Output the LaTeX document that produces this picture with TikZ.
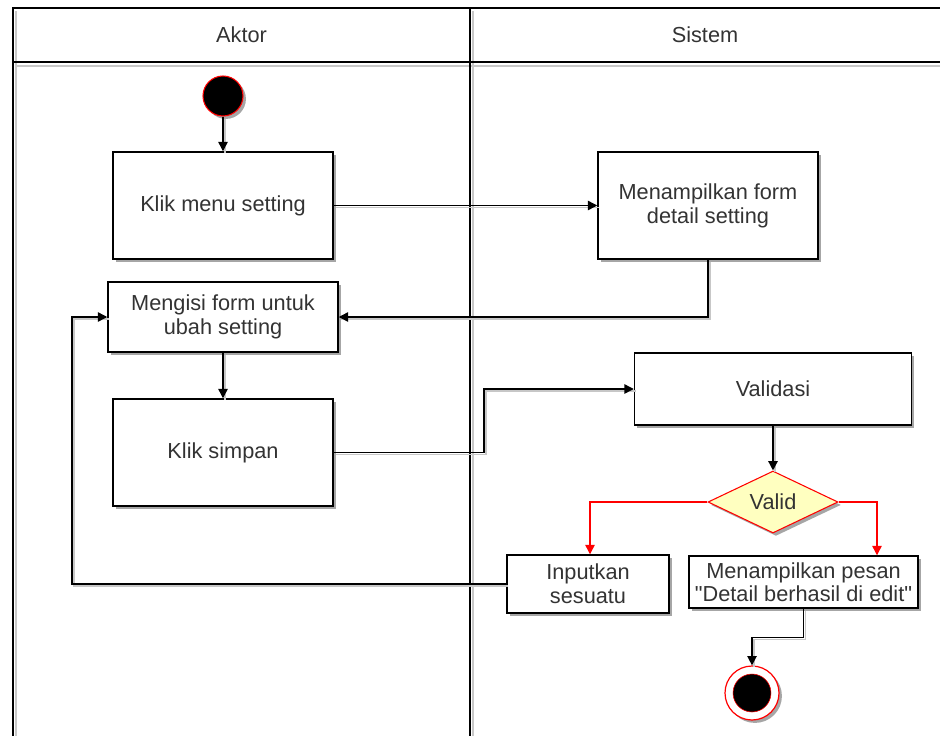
\documentclass[tikz,border=0pt]{standalone}
\usepackage{fontspec}
\setmainfont{Liberation Sans}[Ligatures=TeXOff]
\usetikzlibrary{arrows.meta,shapes.geometric,shadows,calc}
\definecolor{lanegray}{RGB}{200,200,200}
\definecolor{decisionfill}{RGB}{255,255,192}
\begin{document}
\begin{tikzpicture}[x=0.75pt,y=-0.75pt,
  every node/.style={font=\fontsize{16.3}{18}\selectfont, text=black!80},
  shade/.style={drop shadow={shadow xshift=2.2pt, shadow yshift=-2.2pt, fill=black!35, opacity=1}},
  actbox/.style={draw=black, line width=1.1pt, fill=white, rectangle, inner sep=2pt, align=center, shade},
  lane/.style={draw=black, line width=1.1pt},
  flow/.style={draw=black, line width=1pt, -{Triangle[length=7pt,width=7pt]},
    preaction={draw=black!22, -, line width=1pt, transform canvas={shift={(1.5pt,-1.5pt)}}}},
  redflow/.style={draw=red, line width=1pt, -{Triangle[length=7pt,width=7pt]}},
]
\useasboundingbox (0,0) rectangle (940,736);

% swimlane frame
\draw[lanegray, line width=1.1pt] (16,66) -- (940,66);
\draw[lanegray, line width=1pt] (473,11) -- (473,736);
\draw[lanegray, line width=1pt] (16,11) -- (16,736);
\draw[lane] (13,736) -- (13,8) -- (940,8);
\draw[lane] (13,62) -- (940,62);
\draw[lane] (470,8) -- (470,736);
\node (hdrA) at (241.5,35) {Aktor};
\node (hdrS) at (705,35) {Sistem};

% activities
\node[circle, draw=red, line width=0.8pt, fill=black, minimum size=30pt, inner sep=0pt, shade] (start) at (223,96) {};
\node[actbox, minimum width=165pt, minimum height=80.25pt] (klik) at (223,205.5) {Klik menu setting};
\node[actbox, minimum width=165pt, minimum height=80.25pt] (form) at (708,205.5) {Menampilkan form\\detail setting};
\node[actbox, minimum width=172.5pt, minimum height=52.5pt] (isi) at (223,317) {Mengisi form untuk\\ubah setting};
\node[actbox, minimum width=165pt, minimum height=80.25pt] (simpan) at (223,452.5) {Klik simpan};
\node[actbox, minimum width=207.75pt, minimum height=54pt] (valid) at (773,389) {Validasi};
\node[diamond, draw=red, line width=0.8pt, fill=decisionfill, minimum width=97.5pt, minimum height=46.5pt, aspect=2.1, inner sep=0pt, shade] (cek) at (773,502) {Valid};
\node[actbox, minimum width=121.5pt, minimum height=43.5pt] (input) at (588,584) {Inputkan\\sesuatu};
\node[actbox, minimum width=171.75pt, minimum height=39pt, inner sep=0pt, font=\fontsize{16.3}{17}\selectfont] (pesan) at (803.5,582) {Menampilkan pesan\\"Detail berhasil di edit"};
\node[circle, draw=red, line width=0.9pt, fill=white, minimum size=40.5pt, inner sep=0pt, shade] (stop) at (752,693) {};
\node[circle, draw=red, line width=0.4pt, fill=black, minimum size=28.5pt, inner sep=0pt] (stopdot) at (stop) {};

% bend points
\coordinate (jog) at (484,452.5);
\coordinate (back) at (72,317);

% control flow
\draw[flow] (start) -- (klik);
\draw[flow] (klik) -- (form);
\draw[flow] (form.south) |- (isi.east);
\draw[flow] (isi) -- (simpan);
\draw[flow] (simpan.east) -- (jog) |- (valid.west);
\draw[flow] (valid) -- (cek);
\draw[redflow] (cek.west) -| ($(input.north)+(2,0)$);
\draw[redflow] (cek.east) -| ($(pesan.north)+(73.5,0)$);
\draw[flow] (pesan.south) -- ++(0,29) -| (stop.north);
\draw[flow] (input.west) -| (back) -- (isi.west);
\end{tikzpicture}
\end{document}
